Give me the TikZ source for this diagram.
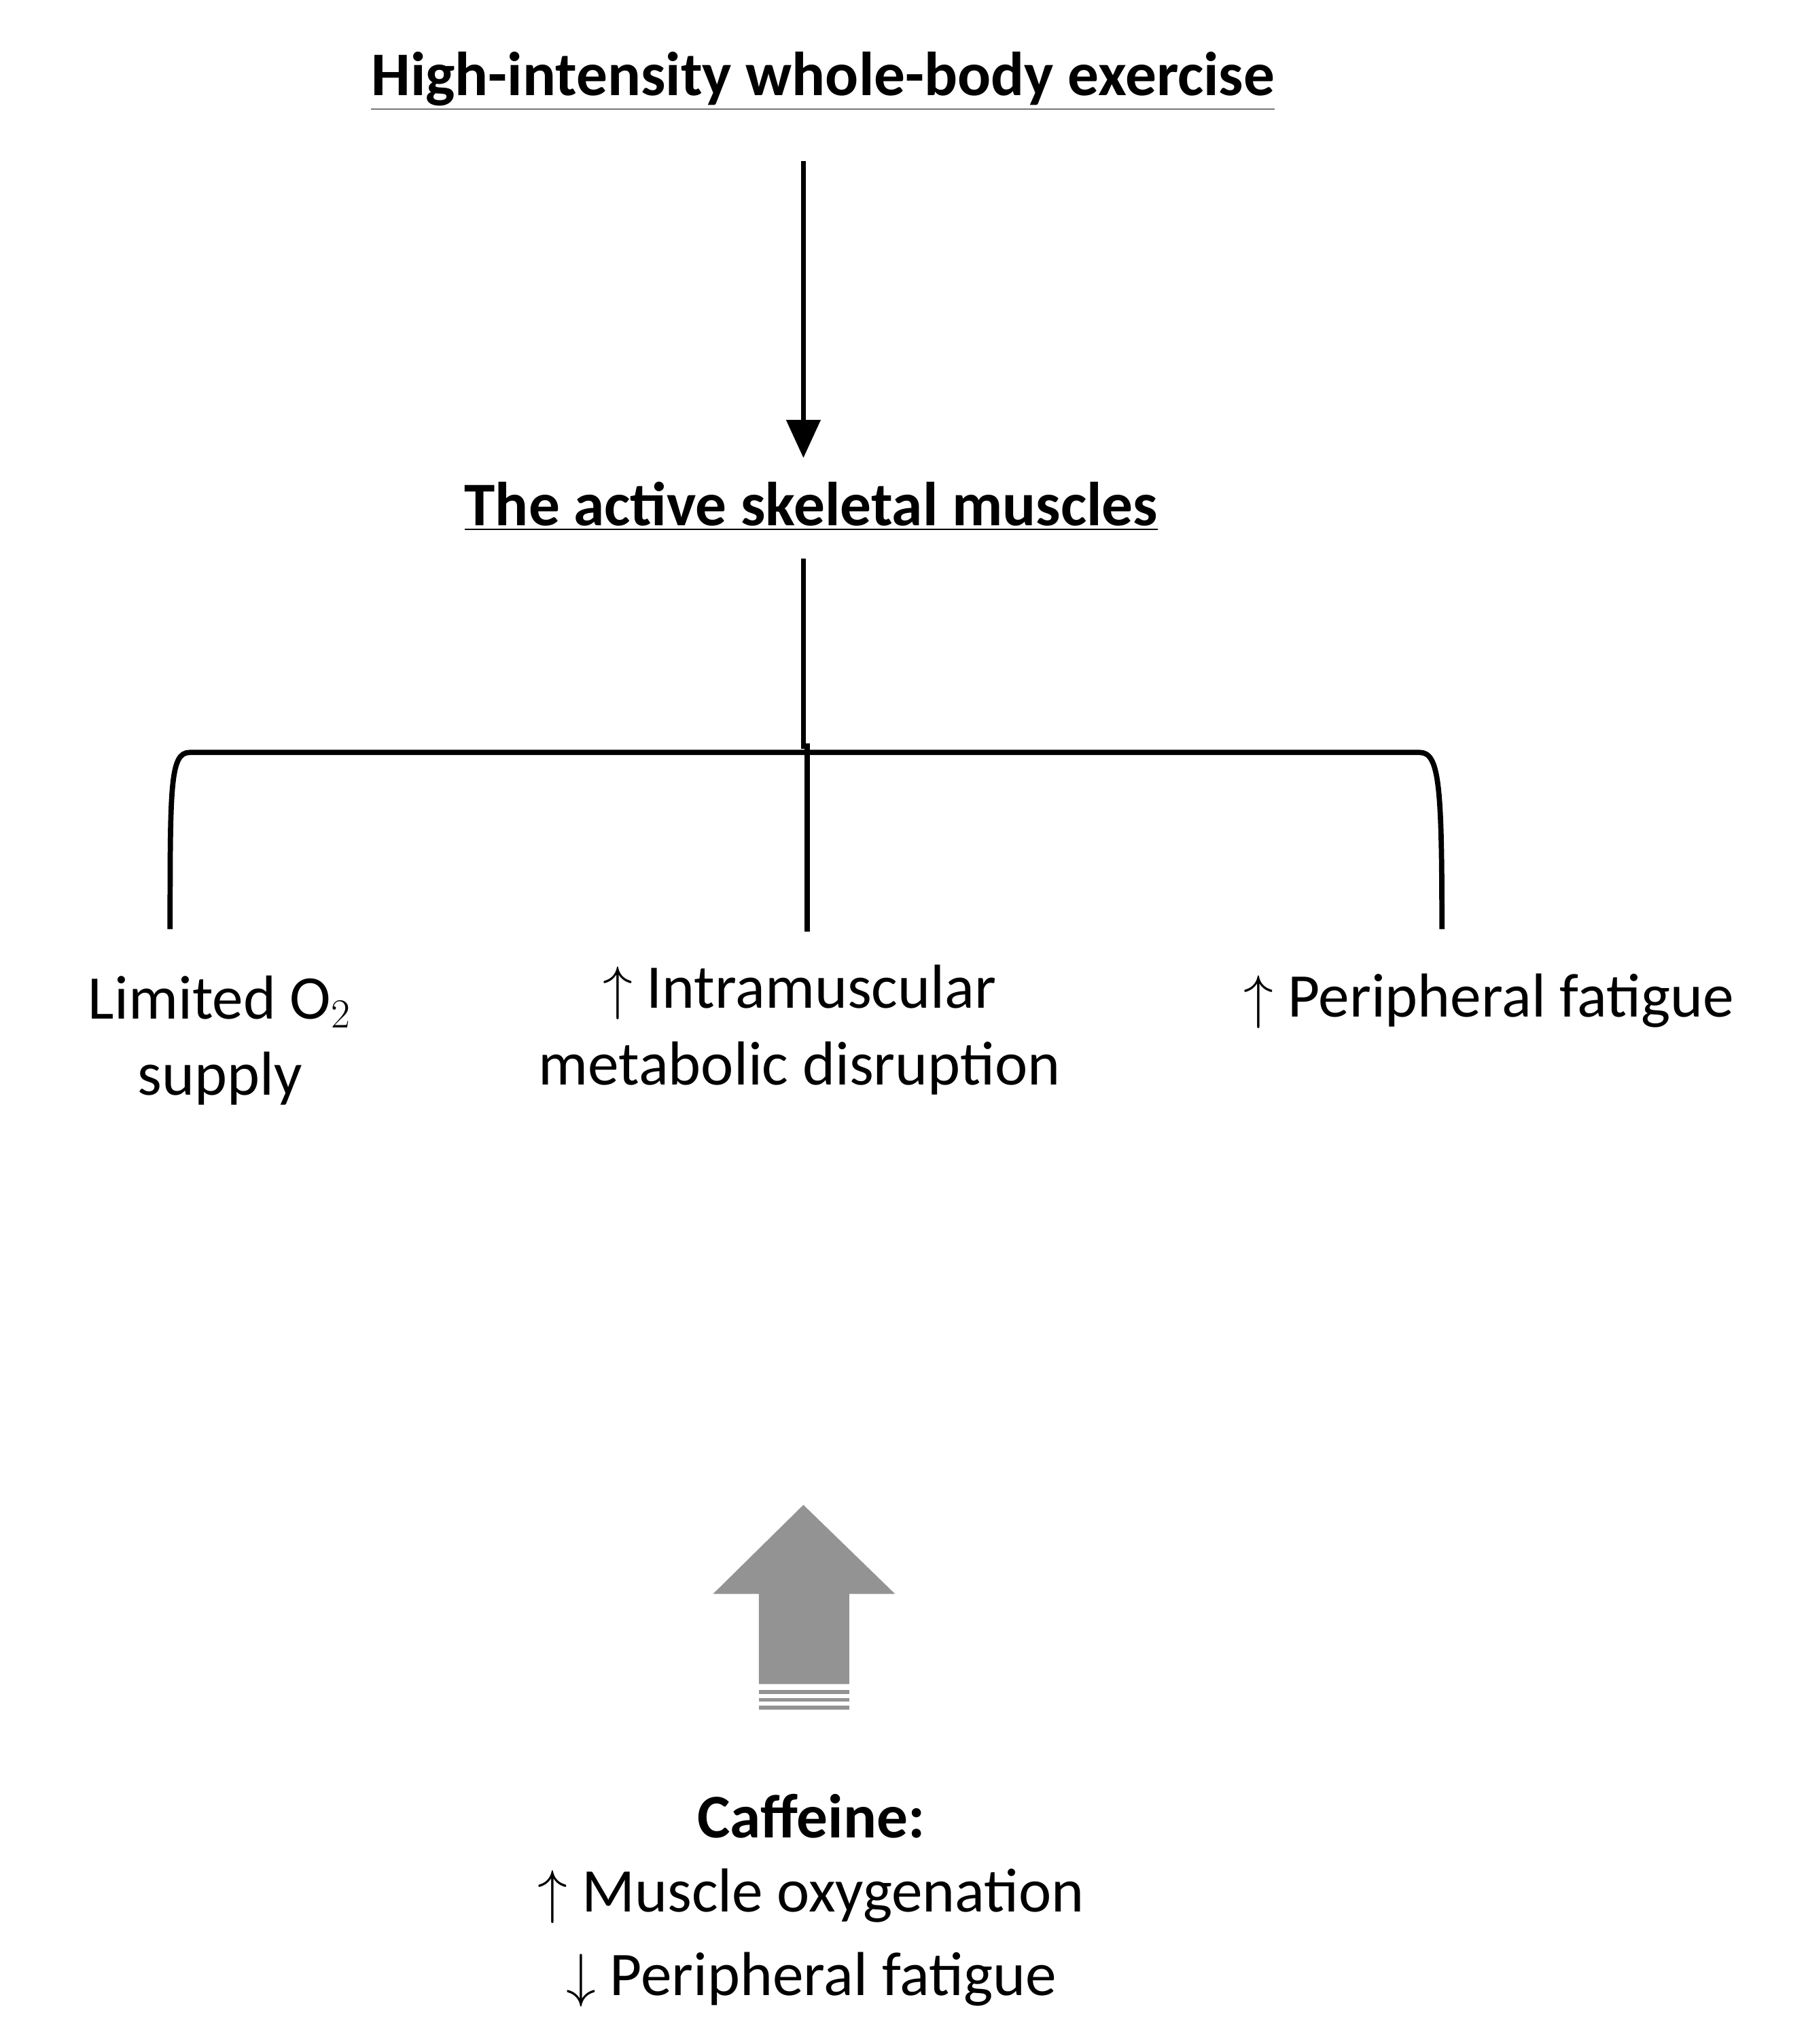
\documentclass[tikz,border=0pt]{standalone}
\usepackage{fontspec}
\setmainfont{Carlito}
\usetikzlibrary{arrows.meta}
\begin{document}
\begin{tikzpicture}[x=0.01925cm,y=-0.01925cm,
      txt/.style={font=\fontsize{26}{32}\selectfont,align=center,inner sep=0pt},
      head/.style={txt,font=\fontsize{26}{32}\selectfont\bfseries},
      ln/.style={line width=2.2pt},
      ]
        \useasboundingbox (0,0) rectangle (1380,1562);
        \node [head] (exer) at (629,62) {\underline{High-intensity whole-body exercise}};
        \node [head] (musc) at (620,387) {\underline{The active skeletal muscles}};
        \coordinate (a1) at (614,123);
        \coordinate (a2) at (614,350);
        \draw [ln,-{Triangle[length=16pt,width=14pt]}] (a1) -- (a2);
        \coordinate (m1) at (614,427);
        \coordinate (m2) at (614,572);
        \draw [ln] (m1) -- (m2);

        % bracket
        \coordinate (bl) at (130,710);
        \coordinate (bm) at (617,712);
        \coordinate (br) at (1102,710);
        \draw [ln] (bl) .. controls (130,600) and (130,575) .. (145,575)
          -- (1085,575) .. controls (1100,575) and (1102,600) .. (br);
        \draw [ln] (617,568) -- (bm);

        \node [txt] (oxy) at (168,795) {Limited O$_2$\\supply};
        \node [txt] (meta) at (611,787) {$\uparrow$ Intramuscular\\metabolic disruption};
        \node [txt] (peri) at (1138,765) {$\uparrow$ Peripheral fatigue};

        % block arrow
        \fill [gray!85] (614,1150) -- (684,1218) -- (649,1218) -- (649,1287)
          -- (580,1287) -- (580,1218) -- (545,1218) -- cycle;
        \foreach \y in {1293,1299,1305}
          \fill [gray!85] (580,\y-1.5) rectangle (649,\y+1.5);

        \node [head] (caf) at (620,1388) {Caffeine:};
        \node [txt] (eff) at (620,1481) {$\uparrow$ Muscle oxygenation\\[3pt]$\downarrow$ Peripheral fatigue};
      \end{tikzpicture}
\end{document}
